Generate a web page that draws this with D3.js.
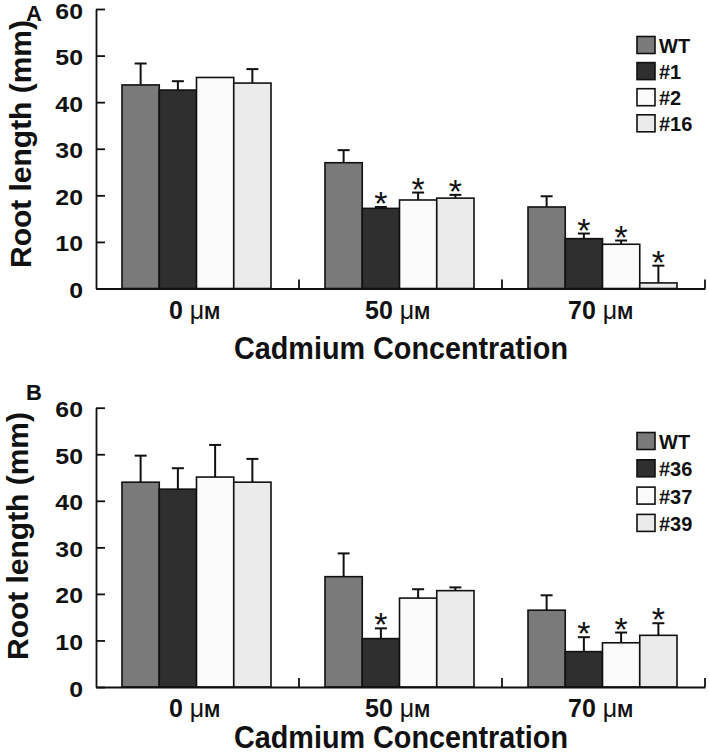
<!DOCTYPE html>
<html><head><meta charset="utf-8">
<script src="https://cdn.jsdelivr.net/npm/d3@7"></script>
<style>body{margin:0;background:#fff}svg{display:block}text{font-family:"Liberation Sans",Arial,sans-serif}</style>
</head><body>
<script>
const categories = ["0", "50", "70"];
const yTicks = [0, 10, 20, 30, 40, 50, 60];
const seriesA = ["WT", "#1", "#2", "#16"];
const seriesB = ["WT", "#36", "#37", "#39"];
const colors = ["#7a7a7a", "#2f2f2f", "#fbfbfb", "#ebebeb"];
// values [category][series]
const meanA = [[43.7, 42.6, 45.3, 44.1], [27.0, 17.2, 19.0, 19.4], [17.5, 10.7, 9.5, 1.2]];
const errA  = [[4.6, 1.9, 0, 3.0], [2.7, 0.3, 1.6, 0.7], [2.3, 1.1, 0.8, 3.7]];
const starA = [[0, 0, 0, 0], [0, 1, 1, 1], [0, 1, 1, 1]];
const meanB = [[44.0, 42.5, 45.1, 44.0], [23.7, 10.4, 19.1, 20.7], [16.5, 7.6, 9.5, 11.1]];
const errB  = [[5.7, 4.5, 6.9, 5.0], [5.0, 2.2, 1.9, 0.7], [3.2, 3.1, 2.2, 2.6]];
const starB = [[0, 0, 0, 0], [0, 1, 0, 0], [0, 1, 1, 1]];

const W = 709, H = 754;
const svg = d3.select("body").append("svg").attr("width", W).attr("height", H);

function bold(sel, size) {
  return sel.attr("font-size", size).attr("font-weight", "bold").attr("fill", "#111")
    .style("font-size", size + "px").style("font-weight", "bold").style("fill", "#111");
}

function panel(cfg) {
  const g = svg.append("g");
  const x0 = d3.scaleBand().domain(categories).range([96, 705]).padding(0);
  const bw = x0.bandwidth();
  const groupW = bw * 0.734;
  const x1 = d3.scaleBand().domain(cfg.series).range([0, groupW]).padding(0);
  const off = (bw - groupW) / 2 - 1;
  const y = d3.scaleLinear().domain([0, 60]).range([cfg.y0, cfg.y60]);

  // bars
  categories.forEach((c, ci) => {
    cfg.series.forEach((s, si) => {
      const bx = x0(c) + off + x1(s);
      const v = cfg.mean[ci][si], e = cfg.err[ci][si];
      const cx = bx + x1.bandwidth() / 2;
      if (e > 0) {
        g.append("line").attr("x1", cx).attr("x2", cx).attr("y1", y(v)).attr("y2", y(v + e))
          .attr("stroke", "#111").attr("stroke-width", 2);
        g.append("line").attr("x1", cx - 6).attr("x2", cx + 6).attr("y1", y(v + e)).attr("y2", y(v + e))
          .attr("stroke", "#111").attr("stroke-width", 2);
      }
      g.append("rect").attr("x", bx).attr("y", y(v)).attr("width", x1.bandwidth()).attr("height", y(0) - y(v))
        .attr("fill", colors[si]).attr("stroke", "#111").attr("stroke-width", 1.6);
      if (cfg.star[ci][si]) {
        g.append("text").attr("x", cx).attr("y", y(v + e) + 8).attr("text-anchor", "middle")
          .style("font-size", "34px").style("fill", "#111").text("*");
      }
    });
  });

  // y axis (lines via d3 axis, labels drawn from the same scale)
  const ya = d3.axisLeft(y).tickValues(yTicks).tickSizeInner(-9).tickSizeOuter(0).tickFormat("");
  const yg = g.append("g").attr("transform", "translate(96,0)").call(ya);
  yg.select(".domain").attr("stroke", "#111").attr("stroke-width", 1.8);
  yg.selectAll(".tick line").attr("stroke", "#111").attr("stroke-width", 1.8);
  yTicks.forEach(v => {
    bold(g.append("text"), 22).attr("transform", `translate(83,${y(v) + 9.5}) scale(1.13,1)`)
      .attr("text-anchor", "end").text(v);
  });

  // x axis
  const xa = d3.axisBottom(x0).tickSize(0).tickFormat("");
  const xg = g.append("g").attr("transform", `translate(0,${cfg.y0})`).call(xa);
  xg.select(".domain").attr("stroke", "#111").attr("stroke-width", 1.8);
  categories.forEach(c => {
    const xb = x0(c) + bw;
    g.append("line").attr("x1", xb).attr("x2", xb).attr("y1", cfg.y0).attr("y2", cfg.y0 - 9)
      .attr("stroke", "#111").attr("stroke-width", 1.8);
    const t = bold(g.append("text"), 25).attr("x", x0(c) + bw / 2 - 3).attr("y", cfg.y0 + 30)
      .attr("text-anchor", "middle");
    t.append("tspan").text(c + " ");
    t.append("tspan").style("font-weight", "normal").text("μ");
    t.append("tspan").style("font-size", "19px").text("M");
  });

  // axis titles
  bold(svg.append("text"), 31).attr("x", 401).attr("y", cfg.y0 + cfg.titleDy).attr("text-anchor", "middle")
    .attr("textLength", 334).attr("lengthAdjust", "spacingAndGlyphs").text("Cadmium Concentration");
  bold(svg.append("text"), 30).attr("transform", `translate(${cfg.ylabX},${cfg.ylabY}) rotate(-90)`)
    .attr("text-anchor", "middle")
    .attr("textLength", 248).attr("lengthAdjust", "spacingAndGlyphs").text("Root length (mm)");
  bold(svg.append("text"), 22).attr("x", 26).attr("y", cfg.letterY).text(cfg.letter);

  // legend
  cfg.series.forEach((s, i) => {
    const ly = cfg.legY + i * cfg.legStep;
    g.append("rect").attr("x", 637).attr("y", ly).attr("width", 18).attr("height", 17)
      .attr("fill", colors[i]).attr("stroke", "#111").attr("stroke-width", 1.6);
    bold(g.append("text"), 20).attr("x", 659).attr("y", ly + 16.5).text(s);
  });
}

panel({series: seriesA, mean: meanA, err: errA, star: starA, y0: 288.5, y60: 9,
  titleDy: 70, ylabX: 31, ylabY: 144, letter: "A", letterY: 21, legY: 36.5, legStep: 26.1});
panel({series: seriesB, mean: meanB, err: errB, star: starB, y0: 687, y60: 407.7,
  titleDy: 61, ylabX: 28, ylabY: 536, letter: "B", letterY: 400, legY: 432.5, legStep: 27.3});
</script>
</body></html>
